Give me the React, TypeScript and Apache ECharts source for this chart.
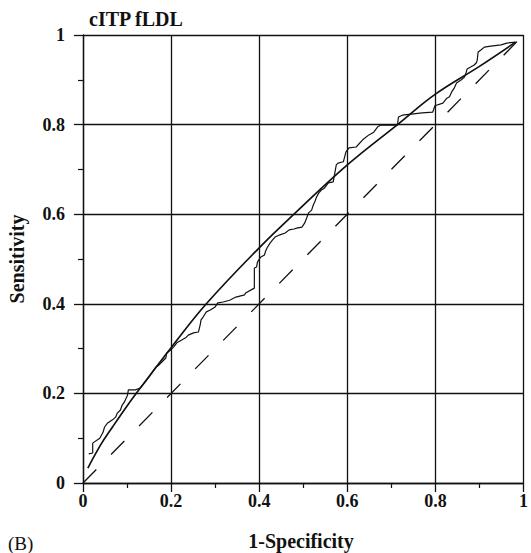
import React, { useEffect, useRef } from "react";
import * as echarts from "echarts";

const titleText = "cITP fLDL";
const xName = "1-Specificity";
const yName = "Sensitivity";
const panelLabel = "(B)";

const diagonal: number[][] = [[0, 0], [1, 1]];

const fitted: number[][] = [
  [0.011, 0.033], [0.04, 0.085], [0.067, 0.125], [0.1, 0.172], [0.13, 0.212],
  [0.2, 0.302], [0.28, 0.4], [0.4, 0.525], [0.479, 0.6], [0.6, 0.71],
  [0.714, 0.8], [0.8, 0.868], [0.9, 0.93], [0.982, 0.984],
];

const empirical: number[][] = [
  [0.013, 0.065], [0.022, 0.067], [0.022, 0.089], [0.038, 0.1], [0.045, 0.112],
  [0.049, 0.125], [0.056, 0.134], [0.067, 0.141], [0.074, 0.147], [0.078, 0.156],
  [0.085, 0.163], [0.089, 0.174], [0.094, 0.181], [0.101, 0.196], [0.103, 0.208],
  [0.119, 0.208], [0.13, 0.212], [0.15, 0.237], [0.166, 0.259], [0.172, 0.263],
  [0.179, 0.27], [0.188, 0.279], [0.19, 0.29], [0.199, 0.297], [0.206, 0.304],
  [0.213, 0.313], [0.224, 0.319], [0.233, 0.324], [0.239, 0.33], [0.251, 0.335],
  [0.262, 0.337], [0.266, 0.353], [0.268, 0.364], [0.273, 0.371], [0.28, 0.382],
  [0.289, 0.386], [0.3, 0.393], [0.306, 0.402], [0.318, 0.404], [0.333, 0.408],
  [0.347, 0.415], [0.367, 0.42], [0.369, 0.424], [0.389, 0.435], [0.389, 0.48],
  [0.394, 0.482], [0.396, 0.493], [0.403, 0.504], [0.412, 0.509], [0.414, 0.516],
  [0.418, 0.525], [0.425, 0.536], [0.43, 0.542], [0.436, 0.549], [0.447, 0.554],
  [0.459, 0.558], [0.468, 0.565], [0.479, 0.567], [0.485, 0.569], [0.497, 0.571],
  [0.503, 0.58], [0.508, 0.592], [0.512, 0.603], [0.519, 0.609], [0.523, 0.621],
  [0.526, 0.627], [0.53, 0.638], [0.535, 0.647], [0.541, 0.654], [0.548, 0.658],
  [0.557, 0.67], [0.568, 0.672], [0.575, 0.71], [0.579, 0.714], [0.591, 0.717],
  [0.597, 0.739], [0.604, 0.748], [0.62, 0.75], [0.635, 0.766], [0.649, 0.777],
  [0.66, 0.783], [0.669, 0.795], [0.676, 0.799], [0.714, 0.799], [0.716, 0.817],
  [0.725, 0.821], [0.77, 0.826], [0.794, 0.828], [0.799, 0.842], [0.817, 0.848],
  [0.826, 0.859], [0.832, 0.862], [0.837, 0.873], [0.843, 0.882], [0.848, 0.893],
  [0.859, 0.9], [0.866, 0.906], [0.87, 0.917], [0.872, 0.924], [0.881, 0.929],
  [0.888, 0.933], [0.893, 0.938], [0.895, 0.944], [0.897, 0.962], [0.904, 0.967],
  [0.911, 0.973], [0.926, 0.975], [0.949, 0.978], [0.962, 0.982], [0.982, 0.984],
];

const FONT = "'Liberation Serif', 'Times New Roman', serif";
const INK = "#111";

export default function App() {
  const ref = useRef<HTMLDivElement>(null);
  useEffect(() => {
    if (!ref.current) return;
    const chart = echarts.init(ref.current, undefined, { renderer: "svg" });
    const axisCommon = {
      type: "value" as const,
      min: 0,
      max: 1,
      interval: 0.2,
      axisLine: { show: true, lineStyle: { color: INK, width: 1.3 } },
      axisTick: { show: true, inside: false, length: 9, lineStyle: { color: INK, width: 1.3 } },
      minorTick: { show: true, splitNumber: 2, length: 5, lineStyle: { color: INK, width: 1.2 } },
      splitLine: { show: true, lineStyle: { color: INK, width: 1.3 } },
      axisLabel: {
        color: INK,
        fontFamily: FONT,
        fontWeight: "bold" as const,
        fontSize: 18,
      },
    };
    chart.setOption({
      animation: false,
      backgroundColor: "#fff",
      grid: { left: 83, right: 1, top: 35, bottom: 70, containLabel: false },
      xAxis: { ...axisCommon, axisLabel: { ...axisCommon.axisLabel, margin: 9 } },
      yAxis: { ...axisCommon, axisLabel: { ...axisCommon.axisLabel, margin: 18 } },
      graphic: [
        {
          type: "text", left: 89, top: 9,
          style: { text: titleText, font: `bold 20px ${FONT}`, fill: INK },
        },
        {
          type: "text", x: 301, y: 541,
          style: { text: xName, font: `bold 20px ${FONT}`, fill: INK, align: "center", verticalAlign: "middle" },
        },
        {
          type: "text", x: 17, y: 259, rotation: Math.PI / 2,
          style: { text: yName, font: `bold 20px ${FONT}`, fill: INK, align: "center", verticalAlign: "middle" },
        },
        {
          type: "text", x: 8, y: 543,
          style: { text: panelLabel, font: `19px ${FONT}`, fill: INK, align: "left", verticalAlign: "middle" },
        },
      ],
      series: [
        {
          type: "line", data: diagonal, symbol: "none", silent: true,
          lineStyle: { color: INK, width: 1.3, type: [19, 21] },
        },
        {
          type: "line", data: fitted, symbol: "none", smooth: 0.4, silent: true,
          lineStyle: { color: INK, width: 1.7 },
        },
        {
          type: "line", data: empirical, symbol: "none", silent: true,
          lineStyle: { color: INK, width: 1.2 },
        },
      ],
    });
    return () => chart.dispose();
  }, []);
  return (
    <div
      ref={ref}
      style={{ position: "fixed", left: 0, top: 0, width: 531, height: 553, background: "#fff" }}
    />
  );
}
